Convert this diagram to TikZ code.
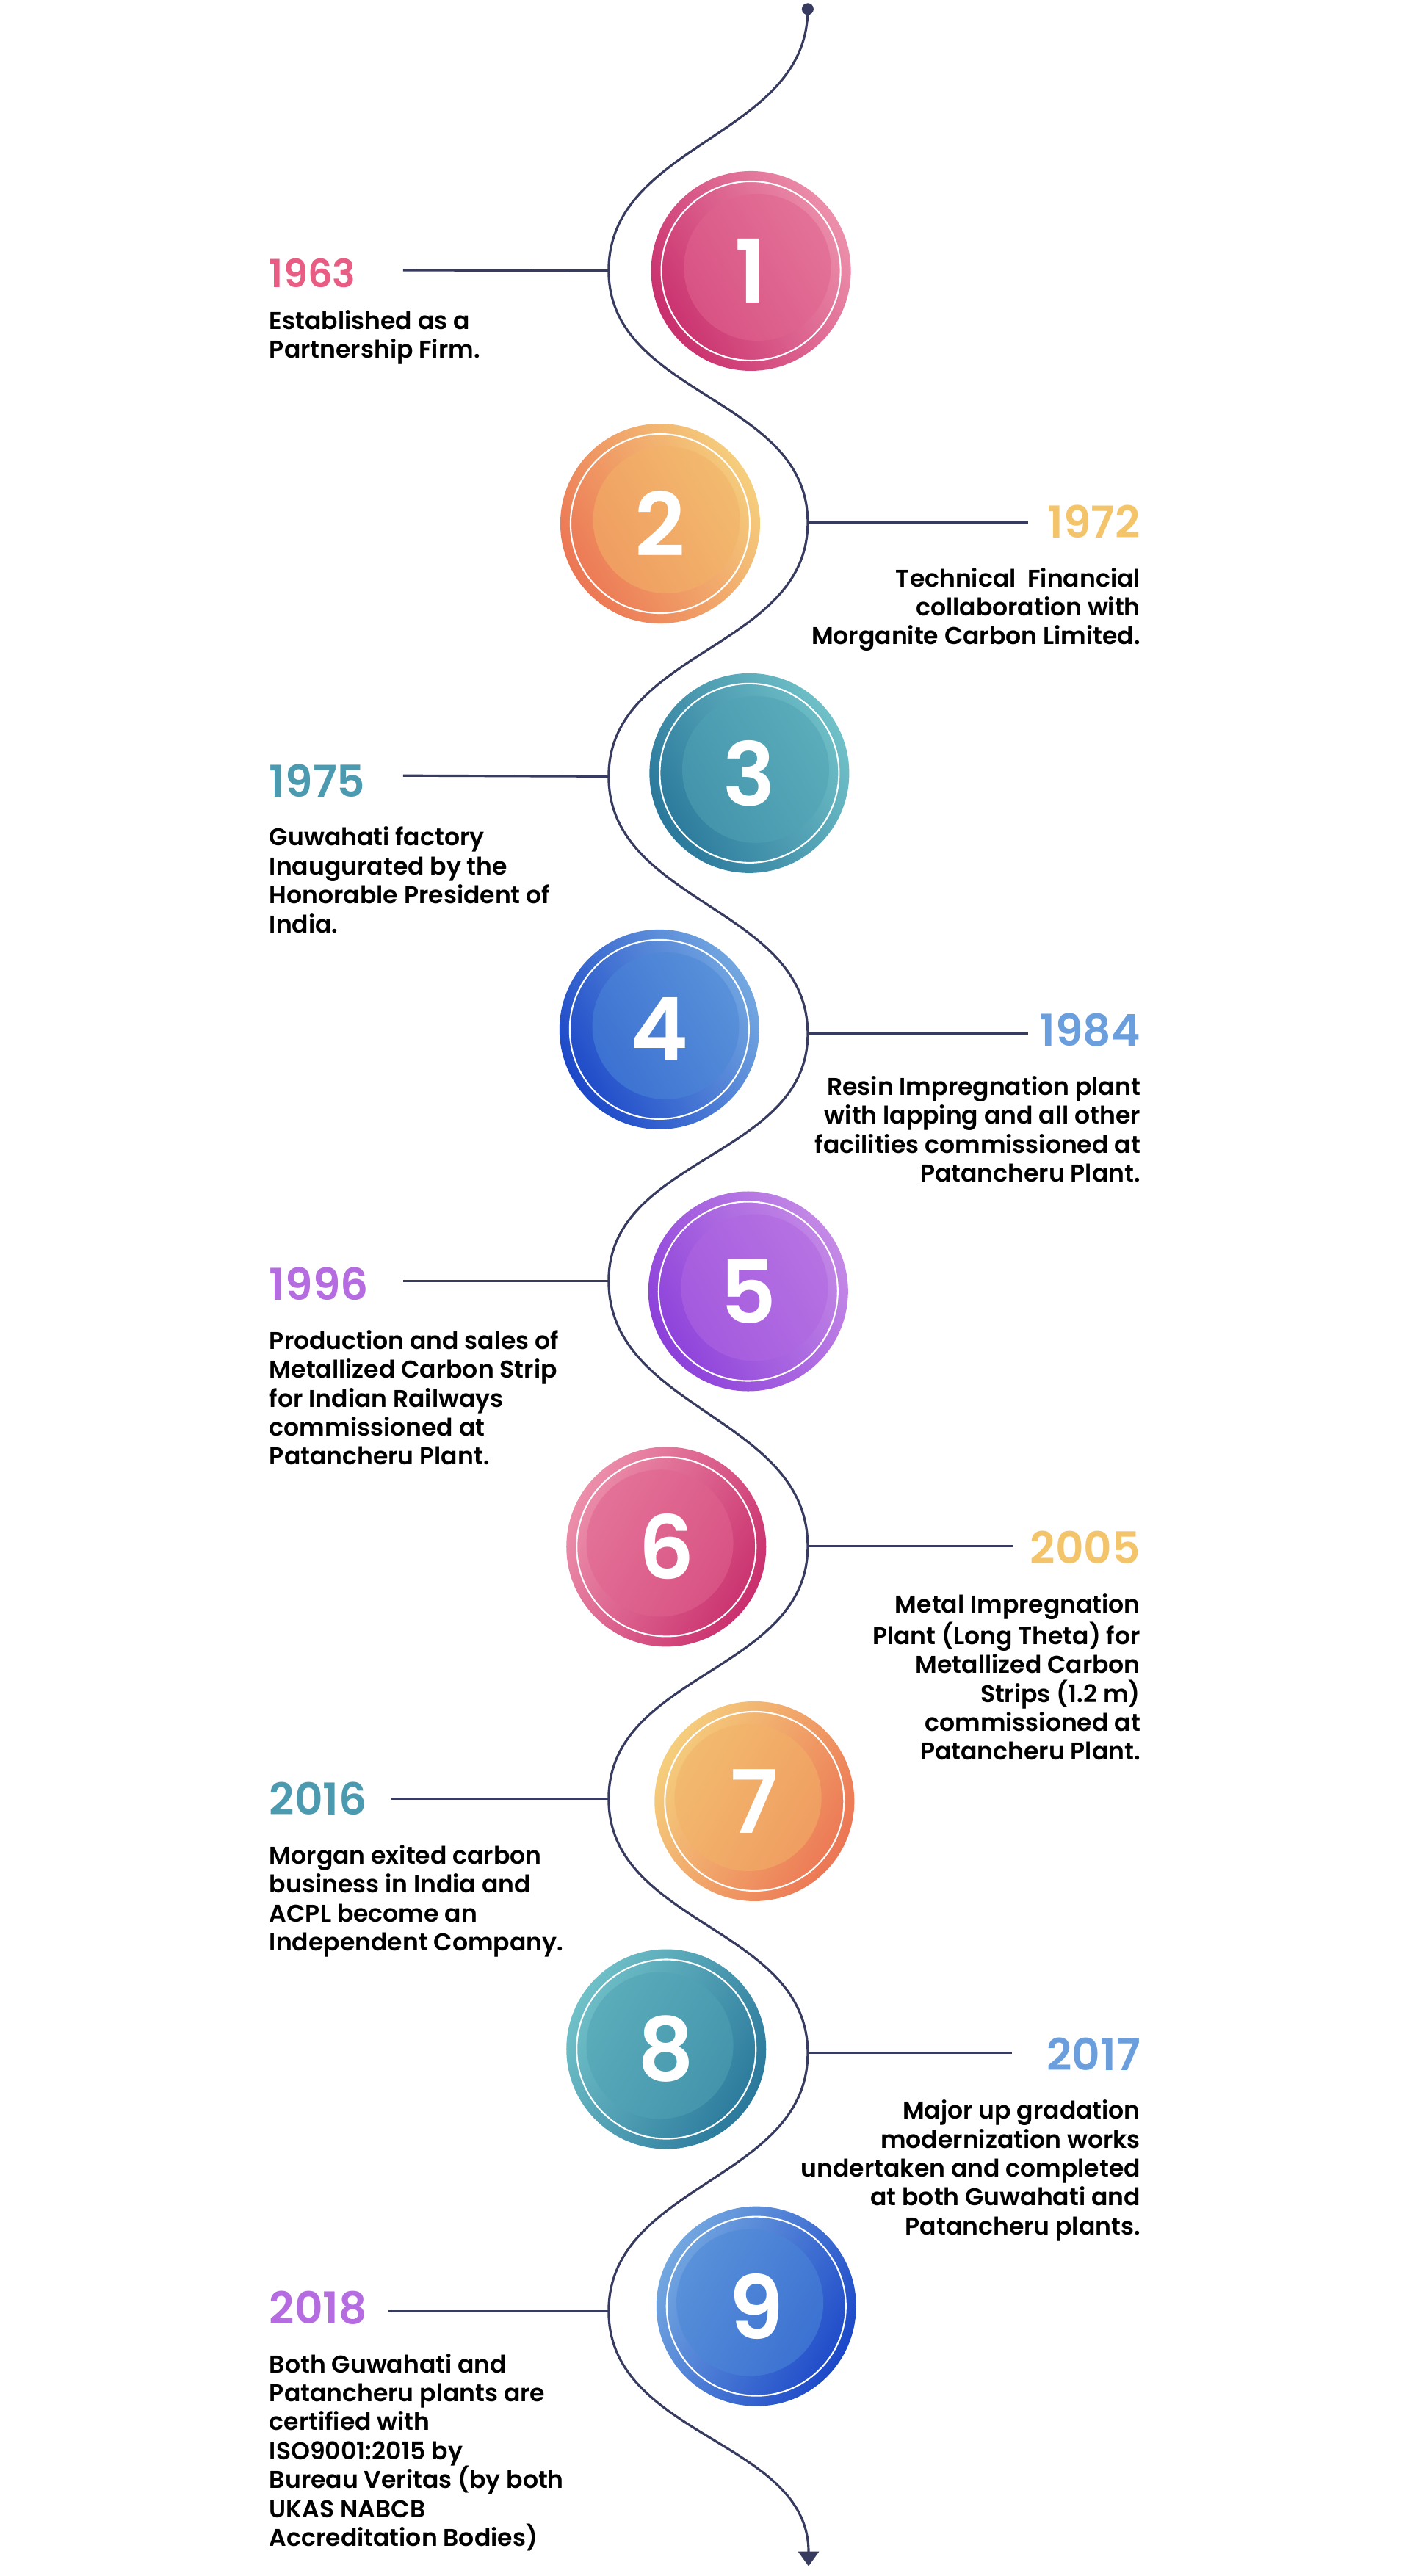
\documentclass[tikz,border=0pt]{standalone}
\usepackage{fontspec}
\setmainfont{Poppins}[BoldFont={Poppins SemiBold}]
\usetikzlibrary{positioning,arrows.meta,calc}
\definecolor{wave}{RGB}{54,59,95}
\definecolor{pinkdk}{RGB}{201,47,109}
\definecolor{pinklt}{RGB}{236,143,171}
\definecolor{pinkmd}{RGB}{224,99,142}
\definecolor{pinkyr}{RGB}{233,92,131}
\definecolor{orngdk}{RGB}{236,118,84}
\definecolor{ornglt}{RGB}{245,206,125}
\definecolor{orngmd}{RGB}{242,178,103}
\definecolor{orngyr}{RGB}{243,196,106}
\definecolor{tealdk}{RGB}{42,120,155}
\definecolor{teallt}{RGB}{112,192,200}
\definecolor{tealmd}{RGB}{80,163,180}
\definecolor{tealyr}{RGB}{76,154,176}
\definecolor{bluedk}{RGB}{28,72,200}
\definecolor{bluelt}{RGB}{115,167,224}
\definecolor{bluemd}{RGB}{75,135,215}
\definecolor{blueyr}{RGB}{106,158,220}
\definecolor{purpdk}{RGB}{140,64,218}
\definecolor{purplt}{RGB}{196,137,230}
\definecolor{purpmd}{RGB}{176,102,225}
\definecolor{purpyr}{RGB}{180,108,224}

\begin{document}
\begin{tikzpicture}[x=0.0224cm, y=-0.0224cm,
	year/.style={font=\bfseries\fontsize{17}{19}\selectfont, inner sep=0pt},
	txtL/.style={font=\bfseries\fontsize{9.4}{11.2}\selectfont, inner sep=0pt, align=left},
	txtR/.style={font=\bfseries\fontsize{9.4}{11.2}\selectfont, inner sep=0pt, align=right},
	num/.style={font=\bfseries\fontsize{34}{36}\selectfont, text=white, inner sep=0pt},
	link/.style={wave, line width=0.9pt}]

	\fill[white] (0,0) rectangle (857,1566);
	\useasboundingbox (0,0) rectangle (857,1566);

	% the wave
	\coordinate (w0) at (491,5.5);
	\coordinate (w1) at (370,164.5);
	\coordinate (w2) at (491,317.6);
	\coordinate (w3) at (370,472);
	\coordinate (w4) at (491,628.5);
	\coordinate (w5) at (370,778.6);
	\coordinate (w6) at (491,940);
	\coordinate (w7) at (370,1093.6);
	\coordinate (w8) at (491,1248);
	\coordinate (w9) at (370,1405);
	\coordinate (w10) at (491.5,1560);

	\draw[wave, line width=0.9pt, -{Triangle[width=0.28cm,length=0.2cm]}] (w0) to[out=-90,in=90] (w1) to[out=-90,in=90] (w2) to[out=-90,in=90] (w3) to[out=-90,in=90] (w4) to[out=-90,in=90] (w5) to[out=-90,in=90] (w6) to[out=-90,in=90] (w7) to[out=-90,in=90] (w8) to[out=-90,in=90] (w9) to[out=-90,in=90] (w10);
	\fill[wave] (w0) circle (0.08cm);

	% discs
	\foreach \i/\cx/\cy/\cl/\cr/\md/\ang/\hd in {1/456.5/164.7/pinkdk/pinklt/pinkmd/120/30, 2/401.3/318.3/orngdk/ornglt/orngmd/120/30, 3/455.5/470/tealdk/teallt/tealmd/120/30, 4/400.8/625.8/bluedk/bluelt/bluemd/120/30, 5/454.8/785/purpdk/purplt/purpmd/120/30, 6/405/940.3/pinklt/pinkdk/pinkmd/60/150, 7/458.6/1095/ornglt/orngdk/orngmd/60/150, 8/405/1245.7/teallt/tealdk/tealmd/60/150, 9/459.7/1402/bluelt/bluedk/bluemd/60/150}
	{
		\shade[left color=\cl, right color=\cr, shading angle=\ang] (\cx,\cy) circle (1.36cm);
		\fill[\md, opacity=.55] ($(\cx,\cy)+(\hd:0.1cm)$) circle (1.0cm);
		\draw[white, line width=0.6pt] (\cx,\cy) circle (1.22cm);
		\node[num] (c\i) at (\cx,\cy) {\i};
	}

	% years and texts
	\node[year, text=pinkyr, anchor=base west, font=\bfseries\fontsize{15}{17}\selectfont] (y1) at (163.5,174.8) {1963};
	\node[txtL, below=0.3cm of y1.base west, anchor=north west] (t1) {Established as a\\Partnership Firm.};
	\coordinate (e1) at (245,164.3);

	\node[year, text=orngyr, anchor=base east] (y2) at (693.5,327) {1972};
	\node[txtR, below=0.4cm of y2.base east, anchor=north east] (t2) {Technical\ \ Financial\\collaboration with\\Morganite Carbon Limited.};
	\coordinate (e2) at (625,317.6);

	\node[year, text=tealyr, anchor=base west] (y3) at (163.5,484.5) {1975};
	\node[txtL, below=0.4cm of y3.base west, anchor=north west] (t3) {Guwahati factory\\Inaugurated by the\\Honorable President of\\India.};
	\coordinate (e3) at (245,471.5);

	\node[year, text=blueyr, anchor=base east] (y4) at (693.5,636) {1984};
	\node[txtR, below=0.4cm of y4.base east, anchor=north east] (t4) {Resin Impregnation plant\\with lapping and all other\\facilities commissioned at\\Patancheru Plant.};
	\coordinate (e4) at (625,628.5);

	\node[year, text=purpyr, anchor=base west] (y5) at (163.5,790.5) {1996};
	\node[txtL, below=0.4cm of y5.base west, anchor=north west] (t5) {Production and sales of\\Metallized Carbon Strip\\for Indian Railways\\commissioned at\\Patancheru Plant.};
	\coordinate (e5) at (245,778.6);

	\node[year, text=orngyr, anchor=base east] (y6) at (693.5,950.7) {2005};
	\node[txtR, below=0.4cm of y6.base east, anchor=north east] (t6) {Metal Impregnation\\Plant (Long Theta) for\\Metallized Carbon\\Strips (1.2 m)\\commissioned at\\Patancheru Plant.};
	\coordinate (e6) at (615.6,940);

	\node[year, text=tealyr, anchor=base west] (y7) at (163.5,1103.5) {2016};
	\node[txtL, below=0.4cm of y7.base west, anchor=north west] (t7) {Morgan exited carbon\\business in India and\\ACPL become an\\Independent Company.};
	\coordinate (e7) at (238,1093.6);

	\node[year, text=blueyr, anchor=base east] (y8) at (693.5,1258.5) {2017};
	\node[txtR, below=0.4cm of y8.base east, anchor=north east] (t8) {Major up gradation\\modernization works\\undertaken and completed\\at both Guwahati and\\Patancheru plants.};
	\coordinate (e8) at (615,1248);

	\node[year, text=purpyr, anchor=base west] (y9) at (163.5,1412.7) {2018};
	\node[txtL, below=0.4cm of y9.base west, anchor=north west] (t9) {Both Guwahati and\\Patancheru plants are\\certified with\\ISO9001:2015 by\\Bureau Veritas (by both\\UKAS NABCB\\Accreditation Bodies)};
	\coordinate (e9) at (236,1405);

	\foreach \i in {1,...,9}
		\draw[link] (w\i) -- (e\i);

\end{tikzpicture}
\end{document}
